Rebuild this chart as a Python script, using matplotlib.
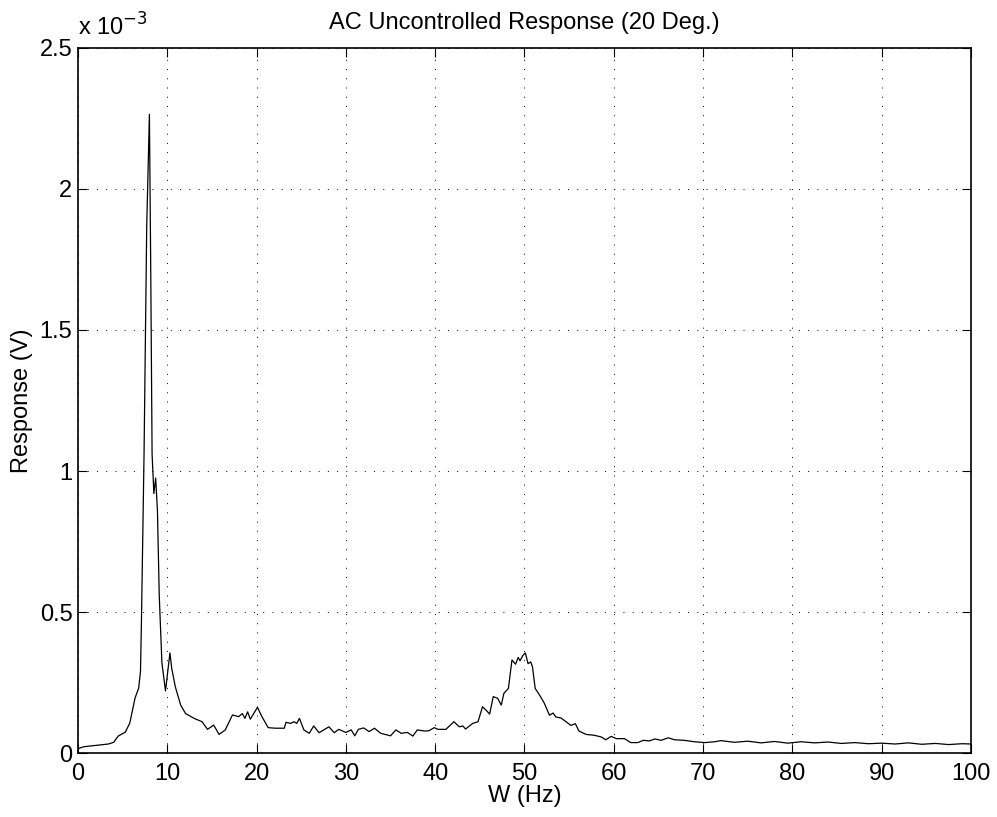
import matplotlib
matplotlib.use("Agg")
import matplotlib.pyplot as plt
from matplotlib.ticker import FuncFormatter

plt.rcParams['font.family'] = ['Liberation Sans', 'DejaVu Sans']

# Frequency (Hz) and response (units of 1e-3 V)
freq = [0.0, 0.6, 1.35, 2.0, 2.8, 3.4, 4.0, 4.5, 5.3, 5.8, 6.4, 6.8, 7.0, 7.1, 7.4, 7.7, 8.0,
        8.15, 8.3, 8.5, 8.7, 8.9, 9.1, 9.4, 9.8, 10.3, 10.5, 10.9, 11.5, 12.05, 13.0, 13.9,
        14.5, 15.2, 15.8, 16.5, 17.3, 18.0, 18.4, 18.7, 19.0, 19.3, 20.1, 20.6, 21.3, 22.1,
        23.1, 23.3, 23.8, 24.2, 24.5, 24.8, 25.3, 25.9, 26.4, 27.0, 28.1, 28.7, 29.2, 30.0,
        30.6, 31.0, 31.4, 32.0, 32.6, 33.2, 33.9, 35.0, 35.6, 36.2, 36.9, 37.5, 38.0, 38.8,
        39.3, 39.9, 40.3, 41.2, 42.1, 42.7, 43.1, 43.4, 44.2, 44.8, 45.3, 45.7, 46.1, 46.5,
        47.0, 47.4, 47.7, 48.2, 48.6, 49.0, 49.3, 49.5, 49.8, 50.1, 50.4, 50.7, 50.9, 51.2,
        51.7, 52.2, 52.8, 53.2, 53.5, 54.1, 54.7, 55.2, 55.7, 56.1, 56.9, 57.8, 58.6, 59.1,
        59.7, 60.3, 61.2, 61.9, 62.7, 63.3, 64.0, 64.6, 65.3, 66.1, 66.8, 67.9, 69.0, 70.2,
        71.3, 72.0, 73.5, 75.0, 76.5, 78.0, 79.5, 81.0, 82.5, 84.0, 85.5, 87.0, 88.5, 90.0,
        91.5, 93.0, 94.5, 96.0, 97.5, 99.0, 100.0]
resp = [0.015, 0.022, 0.025, 0.027, 0.03, 0.032, 0.038, 0.06, 0.074, 0.106, 0.196, 0.23, 0.29,
        0.45, 1.06, 1.87, 2.265,
        1.71, 1.06, 0.92, 0.975, 0.86, 0.56, 0.32, 0.22, 0.355, 0.30, 0.235, 0.17, 0.14, 0.123,
        0.111,
        0.084, 0.099, 0.066, 0.082, 0.135, 0.129, 0.14, 0.123, 0.146, 0.12, 0.162, 0.129, 0.09,
        0.088,
        0.088, 0.109, 0.105, 0.111, 0.105, 0.123, 0.082, 0.07, 0.096, 0.072, 0.093, 0.072,
        0.084, 0.073,
        0.082, 0.061, 0.084, 0.089, 0.076, 0.088, 0.07, 0.061, 0.082, 0.07, 0.073, 0.06, 0.082,
        0.078,
        0.079, 0.09, 0.084, 0.084, 0.111, 0.093, 0.096, 0.085, 0.105, 0.111, 0.164, 0.152,
        0.138, 0.2,
        0.194, 0.17, 0.212, 0.229, 0.33, 0.315, 0.339, 0.327, 0.345, 0.355, 0.317, 0.323,
        0.305, 0.229,
        0.205, 0.178, 0.134, 0.142, 0.128, 0.124, 0.11, 0.098, 0.104, 0.078, 0.066, 0.063,
        0.057, 0.047,
        0.059, 0.051, 0.051, 0.037, 0.037, 0.045, 0.043, 0.05, 0.045, 0.054, 0.047, 0.045,
        0.04, 0.037,
        0.04, 0.044, 0.038, 0.042, 0.036, 0.041, 0.035, 0.04, 0.036, 0.039, 0.034, 0.037,
        0.033, 0.035,
        0.032, 0.036, 0.031, 0.034, 0.03, 0.033, 0.032]

xticks = [0, 10, 20, 30, 40, 50, 60, 70, 80, 90, 100]
yticks = [0, 0.5, 1, 1.5, 2, 2.5]

fig = plt.figure(figsize=(9.97, 8.17), dpi=100)
ax = fig.add_axes([0.0782, 0.0783, 0.8957, 0.863])
ax.plot(freq, resp, color='black', linewidth=0.9)
ax.set_xlim(0, 100)
ax.set_ylim(0, 2.5)
ax.set_xticks(xticks)
ax.set_yticks(yticks)
ax.yaxis.set_major_formatter(FuncFormatter(lambda v, p: f"{v:g}"))
ax.tick_params(direction='in', top=True, right=True, labelsize=17, length=6.5, width=0.8)
ax.tick_params(axis='x', pad=7)
ax.tick_params(axis='y', pad=4)
ax.grid(True, color='black', linestyle=(0, (1, 8.5)), linewidth=0.7)
for s in ax.spines.values():
    s.set_linewidth(1.2)
ax.set_xlabel('W (Hz)', fontsize=17, labelpad=0)
ax.set_ylabel('Response (V)', fontsize=17, labelpad=5)
ax.set_title('AC Uncontrolled Response (20 Deg.)', fontsize=17, pad=14)
ax.text(0.0, 1.01, r'x 10$^{-3}$', transform=ax.transAxes, fontsize=17,
        ha='left', va='bottom')
fig.savefig('out.png', dpi=100)
